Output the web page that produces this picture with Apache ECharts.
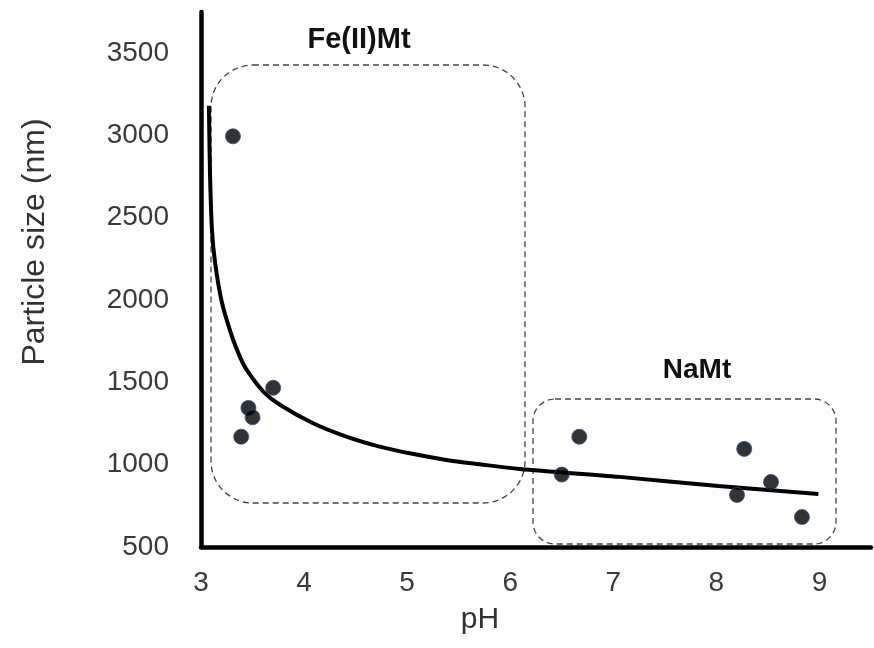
<!DOCTYPE html>
<html>
<head>
<meta charset="utf-8">
<script src="https://cdn.jsdelivr.net/npm/echarts@6/dist/echarts.min.js"></script>
<style>
  html, body { margin: 0; padding: 0; background: #fff; }
  #chart { width: 874px; height: 648px; }
</style>
</head>
<body>
<div id="chart"></div>
<script>
// Measured particle sizes (pH, nm)
const pointPH   = [3.31, 3.39, 3.46, 3.50, 3.70, 6.50, 6.67, 8.20, 8.27, 8.53, 8.83];
const pointSize = [2995, 1170, 1345, 1288, 1467, 940, 1170, 816, 1096, 895, 682];

// Fitted trend curve, sampled along its path
const trendPH   = [3.077, 3.087, 3.106, 3.136, 3.203, 3.30, 3.378, 3.442, 3.603, 3.765, 4.087, 4.41, 4.733, 5.05, 5.38, 5.70, 6.09, 7.06, 8.02, 8.99];
const trendSize = [3180, 2780, 2430, 2230, 1985, 1780, 1655, 1577, 1445, 1364, 1252, 1171, 1110, 1066, 1029, 1003, 974, 926, 871, 822];

// Axis ranges and labels
const xTicks = [3, 4, 5, 6, 7, 8, 9];
const yTicks = [500, 1000, 1500, 2000, 2500, 3000, 3500];

const FONT = "'Liberation Sans', Arial, sans-serif";
const chart = echarts.init(document.getElementById('chart'));

const pts = pointPH.map((x, i) => [x, pointSize[i]]);
const trend = trendPH.map((x, i) => [x, trendSize[i]]);

chart.setOption({
  animation: false,
  backgroundColor: '#fff',
  grid: { left: 201, right: 2, top: 12, bottom: 101 },
  xAxis: {
    type: 'value',
    min: 3, max: 9.5, interval: 1,
    axisLine: { onZero: false, lineStyle: { color: '#000', width: 4.5 } },
    axisTick: { show: false },
    splitLine: { show: false },
    axisLabel: {
      margin: 22,
      fontFamily: FONT, fontSize: 28, color: '#3a3a3a',
      formatter: v => xTicks.includes(v) ? String(v) : ''
    }
  },
  yAxis: {
    type: 'value',
    min: 500, max: 3750, interval: 500,
    axisLine: { onZero: false, lineStyle: { color: '#000', width: 4.5 } },
    axisTick: { show: false },
    splitLine: { show: false },
    axisLabel: {
      margin: 32,
      fontFamily: FONT, fontSize: 28, color: '#3a3a3a',
      formatter: v => yTicks.includes(v) ? String(v) : ''
    }
  },
  series: [
    {
      type: 'line',
      data: trend,
      smooth: 0.3,
      showSymbol: false,
      lineStyle: { color: '#000', width: 4 },
      z: 3
    },
    {
      type: 'scatter',
      data: pts,
      symbolSize: 15,
      itemStyle: { color: '#000', borderColor: '#2b4c8c', borderWidth: 1 },
      z: 4
    }
  ],
  graphic: [
    {
      type: 'rect',
      shape: { x: 211, y: 65, width: 314, height: 438, r: 42 },
      style: { fill: 'none', stroke: '#444', lineWidth: 1.3, lineDash: [6, 4] },
      z: 1
    },
    {
      type: 'rect',
      shape: { x: 533, y: 399, width: 303, height: 145, r: 22 },
      style: { fill: 'none', stroke: '#444', lineWidth: 1.3, lineDash: [6, 4] },
      z: 1
    },
    {
      type: 'text',
      x: 359, y: 40,
      style: { text: 'Fe(II)Mt', font: "bold 29px " + FONT, fill: '#111', align: 'center', verticalAlign: 'middle' },
      z: 5
    },
    {
      type: 'text',
      x: 697, y: 370,
      style: { text: 'NaMt', font: "bold 28px " + FONT, fill: '#111', align: 'center', verticalAlign: 'middle' },
      z: 5
    },
    {
      type: 'text',
      x: 35, y: 242,
      rotation: Math.PI / 2,
      style: { text: 'Particle size (nm)', font: "32px " + FONT, fill: '#333', align: 'center', verticalAlign: 'middle' },
      z: 5
    },
    {
      type: 'text',
      x: 480, y: 620,
      style: { text: 'pH', font: "30px " + FONT, fill: '#333', align: 'center', verticalAlign: 'middle' },
      z: 5
    }
  ]
});
</script>
</body>
</html>
